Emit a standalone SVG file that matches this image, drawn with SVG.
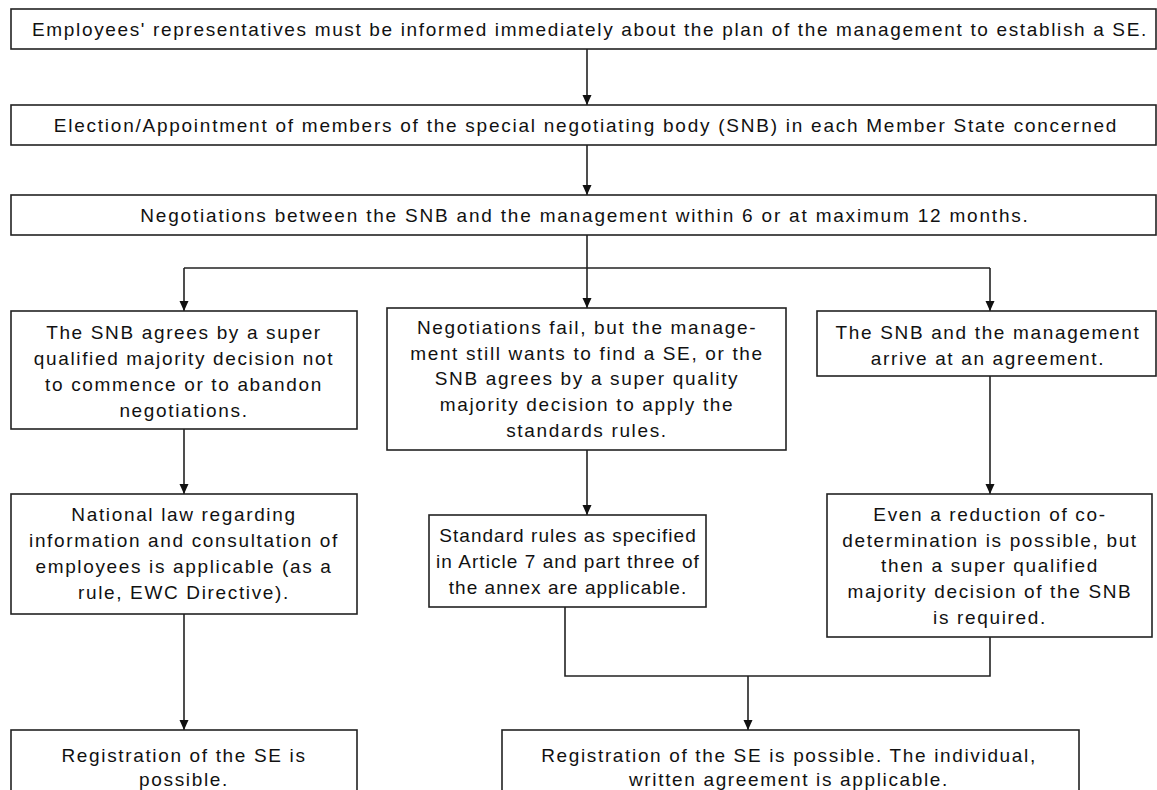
<svg xmlns="http://www.w3.org/2000/svg" width="1157" height="790" viewBox="0 0 1157 790">
<defs>
<style>
.box{fill:#fff;stroke:#222;stroke-width:1.6}
.t{font-family:"Liberation Sans",Arial,sans-serif;font-size:19px;letter-spacing:1.65px;fill:#111;text-anchor:middle}
.n{letter-spacing:1.05px}
.c{fill:none;stroke:#222;stroke-width:1.6}
</style>
<marker id="ah" markerUnits="userSpaceOnUse" markerWidth="10" markerHeight="10" refX="10" refY="5" orient="auto" viewBox="0 0 10 10">
<path d="M0,0.5 L10,5 L0,9.5 z" fill="#111"/>
</marker>
</defs>
<rect width="1157" height="790" fill="#fff"/>
<g id="connectors">
<line class="c" x1="587" y1="49" x2="587" y2="105" marker-end="url(#ah)"/>
<line class="c" x1="587" y1="145" x2="587" y2="195" marker-end="url(#ah)"/>
<line class="c" x1="587" y1="235" x2="587" y2="308" marker-end="url(#ah)"/>
<line class="c" x1="184" y1="268" x2="990" y2="268"/>
<line class="c" x1="184" y1="268" x2="184" y2="311" marker-end="url(#ah)"/>
<line class="c" x1="990" y1="268" x2="990" y2="311" marker-end="url(#ah)"/>
<line class="c" x1="184" y1="429" x2="184" y2="494" marker-end="url(#ah)"/>
<line class="c" x1="587" y1="450" x2="587" y2="515" marker-end="url(#ah)"/>
<line class="c" x1="990" y1="376" x2="990" y2="494" marker-end="url(#ah)"/>
<line class="c" x1="184" y1="614" x2="184" y2="730" marker-end="url(#ah)"/>
<polyline class="c" points="565,607 565,676 990,676 990,637"/>
<line class="c" x1="748" y1="676" x2="748" y2="730" marker-end="url(#ah)"/>
</g>
<g id="n1">
<rect class="box" x="11" y="9" width="1145" height="40"/>
<text class="t" x="590" y="36">Employees' representatives must be informed immediately about the plan of the management to establish a SE.</text>
</g>
<g id="n2">
<rect class="box" x="11" y="105" width="1145" height="40"/>
<text class="t" x="586" y="132" style="letter-spacing:1.75px">Election/Appointment of members of the special negotiating body (SNB) in each Member State concerned</text>
</g>
<g id="n3">
<rect class="box" x="11" y="195" width="1145" height="40"/>
<text class="t" x="585" y="222" style="letter-spacing:1.8px">Negotiations between the SNB and the management within 6 or at maximum 12 months.</text>
</g>
<g id="l1">
<rect class="box" x="11" y="311" width="346" height="118"/>
<text class="t" x="184" y="339">The SNB agrees by a super</text>
<text class="t" x="184" y="365">qualified majority decision not</text>
<text class="t" x="184" y="391">to commence or to abandon</text>
<text class="t" x="184" y="417">negotiations.</text>
</g>
<g id="m1">
<rect class="box" x="387" y="308" width="399" height="142"/>
<text class="t" x="587" y="334">Negotiations fail, but the manage-</text>
<text class="t" x="587" y="360">ment still wants to find a SE, or the</text>
<text class="t" x="587" y="385">SNB agrees by a super quality</text>
<text class="t" x="587" y="411">majority decision to apply the</text>
<text class="t" x="587" y="437">standards rules.</text>
</g>
<g id="r1">
<rect class="box" x="817" y="311" width="339" height="65"/>
<text class="t" x="988" y="339">The SNB and the management</text>
<text class="t" x="988" y="365">arrive at an agreement.</text>
</g>
<g id="l2">
<rect class="box" x="11" y="494" width="346" height="120"/>
<text class="t" x="184" y="521">National law regarding</text>
<text class="t" x="184" y="547">information and consultation of</text>
<text class="t" x="184" y="573">employees is applicable (as a</text>
<text class="t" x="184" y="599">rule, EWC Directive).</text>
</g>
<g id="m2">
<rect class="box" x="429" y="515" width="277" height="92"/>
<text class="t n" x="568" y="542">Standard rules as specified</text>
<text class="t n" x="568" y="568">in Article 7 and part three of</text>
<text class="t n" x="568" y="594">the annex are applicable.</text>
</g>
<g id="r2">
<rect class="box" x="827" y="494" width="325" height="143"/>
<text class="t" x="990" y="521">Even a reduction of co-</text>
<text class="t" x="990" y="547">determination is possible, but</text>
<text class="t" x="990" y="572">then a super qualified</text>
<text class="t" x="990" y="598">majority decision of the SNB</text>
<text class="t" x="990" y="624">is required.</text>
</g>
<g id="l3">
<rect class="box" x="11" y="730" width="346" height="70"/>
<text class="t" x="184" y="762">Registration of the SE is</text>
<text class="t" x="184" y="786">possible.</text>
</g>
<g id="b2">
<rect class="box" x="502" y="730" width="577" height="70"/>
<text class="t" x="789" y="762">Registration of the SE is possible. The individual,</text>
<text class="t" x="789" y="786">written agreement is applicable.</text>
</g>
</svg>
